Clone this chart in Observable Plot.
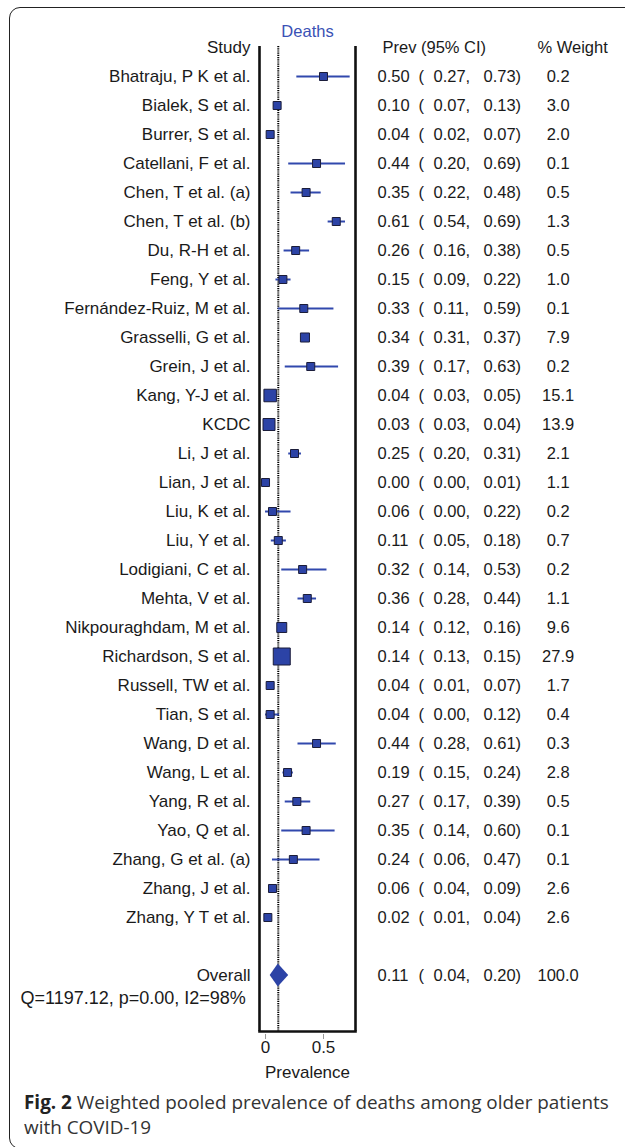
<!DOCTYPE html>
<html>
<head>
<meta charset="utf-8">
<script src="https://cdn.jsdelivr.net/npm/d3@7"></script>
<script src="https://cdn.jsdelivr.net/npm/@observablehq/plot@0.6"></script>
<style>
  html, body { margin: 0; padding: 0; background: #fff; }
  #wrap { position: relative; width: 625px; height: 1147px; overflow: hidden; }
  #chart { position: absolute; left: 0; top: 0; }
  #chart svg text { white-space: pre; }
  #border { position: absolute; left: 9px; top: 7px; width: 660px; height: 1142px;
            border: 1.4px solid #222; border-radius: 11px; box-sizing: border-box; pointer-events: none; }
  #caption { position: absolute; left: 24px; top: 1090px; font-family: "Open Sans", sans-serif;
             font-size: 18.9px; line-height: 25px; color: #333; white-space: nowrap; }
  #caption b { color: #222; }
</style>
</head>
<body>
<div id="wrap">
  <div id="chart"></div>
  <div id="border"></div>
  <div id="caption"><b>Fig. 2</b> Weighted pooled prevalence of deaths among older patients<br>with COVID-19</div>
</div>
<script>
const studies = ["Bhatraju, P K et al.", "Bialek, S et al.", "Burrer, S et al.", "Catellani, F et al.",
  "Chen, T et al. (a)", "Chen, T et al. (b)", "Du, R-H et al.", "Feng, Y et al.",
  "Fernández-Ruiz, M et al.", "Grasselli, G et al.", "Grein, J et al.", "Kang, Y-J et al.",
  "KCDC", "Li, J et al.", "Lian, J et al.", "Liu, K et al.", "Liu, Y et al.",
  "Lodigiani, C et al.", "Mehta, V et al.", "Nikpouraghdam, M et al.", "Richardson, S et al.",
  "Russell, TW et al.", "Tian, S et al.", "Wang, D et al.", "Wang, L et al.", "Yang, R et al.",
  "Yao, Q et al.", "Zhang, G et al. (a)", "Zhang, J et al.", "Zhang, Y T et al."];
const prev  = [0.50, 0.10, 0.04, 0.44, 0.35, 0.61, 0.26, 0.15, 0.33, 0.34, 0.39, 0.04, 0.03, 0.25, 0.00,
               0.06, 0.11, 0.32, 0.36, 0.14, 0.14, 0.04, 0.04, 0.44, 0.19, 0.27, 0.35, 0.24, 0.06, 0.02];
const lower = [0.27, 0.07, 0.02, 0.20, 0.22, 0.54, 0.16, 0.09, 0.11, 0.31, 0.17, 0.03, 0.03, 0.20, 0.00,
               0.00, 0.05, 0.14, 0.28, 0.12, 0.13, 0.01, 0.00, 0.28, 0.15, 0.17, 0.14, 0.06, 0.04, 0.01];
const upper = [0.73, 0.13, 0.07, 0.69, 0.48, 0.69, 0.38, 0.22, 0.59, 0.37, 0.63, 0.05, 0.04, 0.31, 0.01,
               0.22, 0.18, 0.53, 0.44, 0.16, 0.15, 0.07, 0.12, 0.61, 0.24, 0.39, 0.60, 0.47, 0.09, 0.04];
const weight = [0.2, 3.0, 2.0, 0.1, 0.5, 1.3, 0.5, 1.0, 0.1, 7.9, 0.2, 15.1, 13.9, 2.1, 1.1,
                0.2, 0.7, 0.2, 1.1, 9.6, 27.9, 1.7, 0.4, 0.3, 2.8, 0.5, 0.1, 0.1, 2.6, 2.6];
const overallPrev = 0.11, overallLower = 0.04, overallUpper = 0.20, overallWeight = 100.0;
const heterogeneity = "Q=1197.12, p=0.00, I2=98%";
const xTicks = [0, 0.5];
const xTickLabels = ["0", "0.5"];
const xDomain = [-0.052, 0.776];
const headers = {study: "Study", ci: "Prev (95% CI)", weight: "% Weight", title: "Deaths", xLabel: "Prevalence"};

const rows = studies.map((s, i) => ({study: s, i, prev: prev[i], lo: lower[i], hi: upper[i], w: weight[i]}));
const overallRow = {study: "Overall", i: studies.length + 1, prev: overallPrev, lo: overallLower, hi: overallUpper, w: overallWeight};
const tableRows = [...rows, overallRow];
const f2 = d3.format(".2f");
const maxW = d3.max(weight);

const blue = "#2c43a6";
const lineBlue = "#3148ad";
const ink = "#1a1a1a";
const fs = 16.5;
const fsLabel = 17;
const fsAxis = 17;

const side = d => Math.max(8, 17 * Math.sqrt(d.w / maxW));
const diamond = [
  {y: overallRow.i - 0.4, x1: overallPrev, x2: overallPrev},
  {y: overallRow.i, x1: overallLower, x2: overallUpper},
  {y: overallRow.i + 0.4, x1: overallPrev, x2: overallPrev}
];

const plot = Plot.plot({
  width: 625,
  height: 1085,
  marginLeft: 259,
  marginRight: 270,
  marginTop: 46,
  marginBottom: 54,
  style: {fontFamily: "'Liberation Sans', Arial, sans-serif", fontSize: fs + "px", background: "transparent", color: ink, overflow: "visible"},
  x: {domain: xDomain, axis: null},
  y: {domain: [-30 / 29, 955 / 29], range: [46, 1031], axis: null},
  r: {type: "identity"},
  marks: [
    Plot.ruleX(xDomain, {stroke: "#111", strokeWidth: 2.6}),
    Plot.frame({anchor: "bottom", stroke: "#111", strokeWidth: 2.6}),
    Plot.ruleX([overallPrev], {stroke: "#000", strokeWidth: 2, strokeDasharray: "1.2,1"}),
    Plot.ruleY(rows, {y: "i", x1: "lo", x2: "hi", stroke: lineBlue, strokeWidth: 2}),
    Plot.dot(rows, {x: "prev", y: "i", symbol: "square", r: d => side(d) / Math.sqrt(Math.PI),
      fill: blue, stroke: "#1b1d3a", strokeWidth: 1}),
    Plot.areaX(diamond, {y: "y", x1: "x1", x2: "x2", fill: blue, curve: "linear"}),
    Plot.axisX({ticks: xTicks, tickFormat: d => xTickLabels[xTicks.indexOf(d)], tickSize: 5, tickPadding: 1, dy: 3,
      stroke: "#999", fill: ink, fontSize: fsAxis, label: null}),
    Plot.text([headers.xLabel], {frameAnchor: "bottom", dy: 41, lineAnchor: "middle", text: d => d, fill: ink, fontSize: fsAxis}),
    Plot.text([headers.title], {frameAnchor: "top", dy: -15, lineAnchor: "middle", text: d => d, fill: "#3a51b5", fontSize: fs}),
    // headers
    Plot.text([headers.study], {y: () => -1, text: d => d, frameAnchor: "left", dx: -9, textAnchor: "end", fill: ink, fontSize: fsLabel}),
    Plot.text([headers.ci], {y: () => -1, text: d => d, frameAnchor: "right", dx: 27, textAnchor: "start", fill: ink}),
    Plot.text([headers.weight], {y: () => -1, text: d => d, frameAnchor: "right", dx: 182, textAnchor: "start", fill: ink}),
    // table
    Plot.text(tableRows, {y: "i", text: "study", frameAnchor: "left", dx: -9, textAnchor: "end", fill: ink, fontSize: fsLabel}),
    Plot.text(tableRows, {y: "i", text: d => f2(d.prev), frameAnchor: "right", dx: 22, textAnchor: "start", fill: ink}),
    Plot.text(tableRows, {y: "i", text: () => "(", frameAnchor: "right", dx: 63, textAnchor: "start", fill: ink}),
    Plot.text(tableRows, {y: "i", text: d => f2(d.lo) + ",", frameAnchor: "right", dx: 78, textAnchor: "start", fill: ink}),
    Plot.text(tableRows, {y: "i", text: d => f2(d.hi) + ")", frameAnchor: "right", dx: 128, textAnchor: "start", fill: ink}),
    Plot.text(tableRows, {y: "i", text: d => d.w.toFixed(1).padStart(5, " "), frameAnchor: "right", dx: 182, textAnchor: "start", fill: ink}),
    Plot.text([heterogeneity], {y: () => overallRow.i, dy: 23, text: d => d, frameAnchor: "left", dx: -239, textAnchor: "start", fill: ink, fontSize: 18})
  ]
});
document.getElementById("chart").appendChild(plot);
</script>
</body>
</html>
